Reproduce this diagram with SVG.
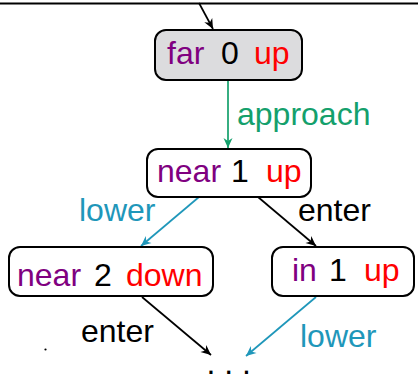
<svg xmlns="http://www.w3.org/2000/svg" width="418" height="375" viewBox="0 0 418 375">
<style>
text{font-family:"Liberation Sans",Arial,sans-serif;font-size:32px}
.box{fill:#fff;stroke:#000;stroke-width:2}
.pu{fill:#800080}.bk{fill:#000}.rd{fill:#ff0000}
.gr{fill:#14a06c}.bl{fill:#1f97ba}
.c{fill:none;stroke-width:1.7}
</style>
<defs>
<marker id="ak" markerUnits="userSpaceOnUse" viewBox="-11 -5 12 10" refX="0" refY="0" markerWidth="12" markerHeight="10" orient="auto"><path d="M-10,-4.5 L0,0 L-10,4.5 L-7,0 z" fill="#000"/></marker>
<marker id="ag" markerUnits="userSpaceOnUse" viewBox="-11 -5 12 10" refX="0" refY="0" markerWidth="12" markerHeight="10" orient="auto"><path d="M-10,-4.5 L0,0 L-10,4.5 L-7,0 z" fill="#14a06c"/></marker>
<marker id="ab" markerUnits="userSpaceOnUse" viewBox="-11 -5 12 10" refX="0" refY="0" markerWidth="12" markerHeight="10" orient="auto"><path d="M-10,-4.5 L0,0 L-10,4.5 L-7,0 z" fill="#1f97ba"/></marker>
</defs>
<line x1="0" y1="3.5" x2="418" y2="3.5" stroke="#000" stroke-width="1.8"/>
<g id="connectors">
<line class="c" x1="199" y1="3" x2="213" y2="29" stroke="#000" marker-end="url(#ak)"/>
<line class="c" x1="228" y1="81" x2="228" y2="148" stroke="#14a06c" marker-end="url(#ag)"/>
<text class="gr" x="237" y="125">approach</text>
<line class="c" x1="199" y1="197" x2="141" y2="246" stroke="#1f97ba" marker-end="url(#ab)"/>
<text class="bl" x="79" y="221">lower</text>
<line class="c" x1="258" y1="197" x2="316" y2="246" stroke="#000" marker-end="url(#ak)"/>
<text class="bk" x="298" y="221">enter</text>
<line class="c" x1="142" y1="297" x2="211" y2="355" stroke="#000" marker-end="url(#ak)"/>
<text class="bk" x="81" y="342">enter</text>
<line class="c" x1="316" y1="297" x2="246" y2="356" stroke="#1f97ba" marker-end="url(#ab)"/>
<text class="bl" x="300" y="347">lower</text>
</g>
<g id="n-far0up">
<rect class="box" x="155" y="30" width="147" height="50" rx="11" style="fill:#dcdcde"/>
<text y="64"><tspan class="pu" x="167">far</tspan><tspan class="bk" x="221">0</tspan><tspan class="rd" x="254">up</tspan></text>
</g>
<g id="n-near1up">
<rect class="box" x="147" y="149" width="164" height="48" rx="11"/>
<text y="182"><tspan class="pu" x="157">near</tspan><tspan class="bk" x="231">1</tspan><tspan class="rd" x="266">up</tspan></text>
</g>
<g id="n-near2down">
<rect class="box" x="9" y="247" width="204" height="49" rx="11"/>
<text y="286"><tspan class="pu" x="17">near</tspan><tspan class="bk" x="94">2</tspan><tspan class="rd" x="126">down</tspan></text>
</g>
<g id="n-in1up">
<rect class="box" x="272" y="247" width="142" height="49" rx="11"/>
<text y="281"><tspan class="pu" x="292">in</tspan><tspan class="bk" x="329">1</tspan><tspan class="rd" x="364">up</tspan></text>
</g>
<g id="n-dots">
<text class="bk" x="206.5" y="373.5">. . .</text>
</g>
<circle cx="45.5" cy="349.5" r="1.1" fill="#000"/>
</svg>
